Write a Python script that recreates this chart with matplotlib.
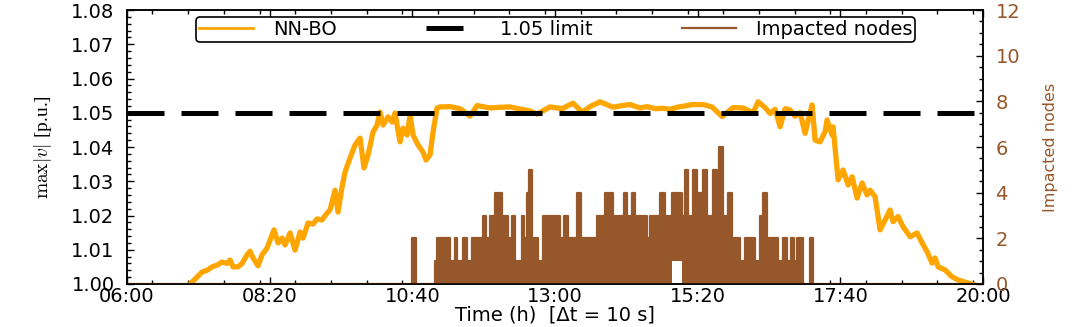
import matplotlib
matplotlib.use("Agg")
import matplotlib.pyplot as plt
from matplotlib.ticker import MultipleLocator, FixedLocator, FuncFormatter
from matplotlib.lines import Line2D

# --- DATA ---
# max |v| of NN-BO, time in hours of the day
volt_hours = [6.000, 6.376, 6.998, 7.030, 7.145, 7.227, 7.308, 7.390, 7.472, 7.554,
              7.636, 7.685, 7.734, 7.815, 7.881, 7.963, 8.012, 8.061, 8.143, 8.208,
              8.290, 8.339, 8.404, 8.470, 8.535, 8.584, 8.666, 8.748, 8.830, 8.879,
              8.960, 9.042, 9.108, 9.189, 9.271, 9.320, 9.402, 9.451, 9.516, 9.566,
              9.647, 9.729, 9.811, 9.876, 9.942, 10.024, 10.089, 10.138, 10.187, 10.269,
              10.334, 10.383, 10.465, 10.514, 10.580, 10.629, 10.678, 10.760, 10.841, 10.890,
              10.956, 11.005, 11.070, 11.119, 11.283, 11.447, 11.610, 11.725, 11.937, 12.101,
              12.264, 12.428, 12.591, 12.706, 12.918, 13.115, 13.295, 13.442, 13.573, 13.736,
              13.949, 14.096, 14.227, 14.391, 14.505, 14.636, 14.767, 14.881, 14.996, 15.127,
              15.257, 15.421, 15.568, 15.732, 15.912, 16.075, 16.239, 16.321, 16.435, 16.517,
              16.599, 16.681, 16.763, 16.844, 16.926, 17.008, 17.090, 17.171, 17.204, 17.253,
              17.335, 17.417, 17.449, 17.531, 17.547, 17.629, 17.711, 17.793, 17.858, 17.940,
              18.022, 18.103, 18.152, 18.234, 18.316, 18.398, 18.479, 18.528, 18.610, 18.692,
              18.807, 18.921, 19.003, 19.085, 19.166, 19.215, 19.265, 19.379, 19.493, 19.592,
              19.673, 19.788, 19.902, 20.000]
volt_max = [0.9950, 0.9960, 0.9995, 1.0000, 1.0020, 1.0035, 1.0040, 1.0050, 1.0055, 1.0064,
            1.0060, 1.0070, 1.0050, 1.0050, 1.0060, 1.0085, 1.0096, 1.0076, 1.0053, 1.0085,
            1.0105, 1.0128, 1.0158, 1.0120, 1.0134, 1.0114, 1.0149, 1.0099, 1.0152, 1.0134,
            1.0178, 1.0175, 1.0190, 1.0187, 1.0207, 1.0216, 1.0274, 1.0210, 1.0283, 1.0327,
            1.0368, 1.0406, 1.0426, 1.0339, 1.0377, 1.0444, 1.0464, 1.0502, 1.0464, 1.0488,
            1.0473, 1.0499, 1.0415, 1.0455, 1.0435, 1.0493, 1.0435, 1.0406, 1.0385, 1.0362,
            1.0377, 1.0444, 1.0514, 1.0517, 1.0518, 1.0512, 1.0490, 1.0521, 1.0514, 1.0516,
            1.0517, 1.0511, 1.0505, 1.0496, 1.0517, 1.0512, 1.0528, 1.0502, 1.0518, 1.0532,
            1.0516, 1.0521, 1.0524, 1.0514, 1.0518, 1.0512, 1.0513, 1.0510, 1.0516, 1.0520,
            1.0524, 1.0524, 1.0517, 1.0489, 1.0515, 1.0514, 1.0500, 1.0532, 1.0515, 1.0498,
            1.0510, 1.0459, 1.0512, 1.0508, 1.0490, 1.0500, 1.0440, 1.0500, 1.0523, 1.0420,
            1.0415, 1.0445, 1.0479, 1.0435, 1.0459, 1.0304, 1.0333, 1.0289, 1.0313, 1.0251,
            1.0295, 1.0260, 1.0274, 1.0255, 1.0158, 1.0187, 1.0216, 1.0182, 1.0197, 1.0167,
            1.0138, 1.0149, 1.0120, 1.0094, 1.0061, 1.0076, 1.0050, 1.0041, 1.0021, 1.0012,
            1.0007, 1.0001, 0.9995, 0.9990]

# impacted nodes: start hour of each run, highest and lowest count in that run
nodes_start = [6.000, 10.661, 10.727, 11.038, 11.070, 11.283, 11.365, 11.397, 11.496, 11.561,
               11.643, 11.823, 11.872, 11.937, 12.019, 12.133, 12.232, 12.297, 12.346, 12.461,
               12.493, 12.542, 12.575, 12.624, 12.722, 12.804, 12.951, 12.968, 13.082, 13.147,
               13.213, 13.360, 13.426, 13.687, 13.818, 13.949, 14.129, 14.178, 14.260, 14.309,
               14.505, 14.554, 14.718, 14.800, 14.914, 15.077, 15.126, 15.176, 15.257, 15.323,
               15.421, 15.486, 15.584, 15.650, 15.683, 15.748, 15.830, 15.895, 16.026, 16.108,
               16.271, 16.353, 16.402, 16.468, 16.648, 16.729, 16.795, 16.860, 16.909, 16.958,
               17.057, 17.171, 17.220, 20.000]
nodes_max = [0, 2, 0, 1, 2, 1, 2, 1, 2, 1,
             2, 3, 2, 3, 4, 3, 2, 3, 1, 3,
             2, 4, 5, 2, 1, 3, 2, 3, 2, 3,
             2, 4, 2, 3, 4, 3, 4, 3, 4, 3,
             2, 3, 4, 3, 4, 3, 5, 3, 5, 4,
             5, 3, 5, 4, 6, 3, 4, 2, 1, 2,
             1, 3, 4, 2, 1, 2, 1, 2, 1, 2,
             0, 2, 0, 0]
nodes_min = [0, 0, 0, 0, 0, 0, 0, 0, 0, 0,
             0, 0, 0, 0, 0, 0, 0, 0, 0, 0,
             0, 0, 0, 0, 0, 0, 0, 0, 0, 0,
             0, 0, 0, 0, 0, 0, 0, 0, 0, 0,
             0, 0, 0, 0, 1, 0, 0, 0, 0, 0,
             0, 0, 0, 0, 0, 0, 0, 0, 0, 0,
             0, 0, 0, 0, 0, 0, 0, 0, 0, 0,
             0, 0, 0, 0]

time_ticks = ['06:00', '08:20', '10:40', '13:00', '15:20', '17:40', '20:00']
v_limit = 1.05

orange = '#FFA500'
brown = '#96572B'

plt.rcParams['font.family'] = 'DejaVu Sans'
plt.rcParams['font.size'] = 14
plt.rcParams['mathtext.fontset'] = 'cm'

fig = plt.figure(figsize=(10.81, 3.27), dpi=100)
ax = fig.add_axes([0.1175, 0.1315, 0.7919, 0.8379])
ax2 = ax.twinx()

# --- PLOTTING ---
l1, = ax.plot(volt_hours, volt_max, color=orange, lw=3.8, solid_joinstyle='round', zorder=2)
l2, = ax.plot([6, 20], [v_limit, v_limit], color='black', lw=3.6, dashes=(7.4, 3.4), zorder=3)

ax2.fill_between(nodes_start, nodes_min, nodes_max, step='post', color=brown, lw=0)
l3, = ax2.plot(nodes_start, nodes_max, color=brown, lw=1.6, drawstyle='steps-post')

ax.set_xlim(6, 20)
ax.set_ylim(1.0, 1.08)
ax2.set_ylim(0, 12)

tick_pos = [int(t[:2]) + int(t[3:]) / 60 for t in time_ticks]
ax.xaxis.set_major_locator(FixedLocator(tick_pos))
ax.set_xticklabels(time_ticks)
ax.xaxis.set_minor_locator(MultipleLocator(35 / 60))
ax.yaxis.set_major_locator(MultipleLocator(0.01))
ax.yaxis.set_minor_locator(MultipleLocator(0.002))
ax.yaxis.set_major_formatter(FuncFormatter(lambda v, p: f'{v:.2f}'))
ax2.yaxis.set_major_locator(MultipleLocator(2))
ax2.yaxis.set_minor_locator(MultipleLocator(0.5))

ax.tick_params(axis='both', which='both', direction='in', top=True, right=False, width=1)
ax.tick_params(which='major', length=5)
ax.tick_params(which='minor', length=3)
ax.tick_params(axis='y', pad=9)
ax.tick_params(axis='x', pad=2)
ax2.tick_params(axis='y', which='both', direction='in', colors='black', labelcolor=brown, width=1, pad=9)
ax2.tick_params(which='major', length=5)
ax2.tick_params(which='minor', length=3)

for a in (ax, ax2):
    for s in a.spines.values():
        s.set_linewidth(1.1)

ax.set_xlabel('Time (h)  [Δt = 10 s]', labelpad=0)
ax.set_ylabel(r'$\max|v|$ [p.u.]', fontsize=14, family='Liberation Serif', labelpad=12)
ax2.set_ylabel('Impacted nodes', color=brown, fontsize=11.5, labelpad=16)

h1 = Line2D([], [], color=orange, lw=2)
h3 = Line2D([], [], color=brown, lw=1.6)
leg = ax2.legend([h1, l2, h3], ['NN-BO', '1.05 limit', 'Impacted nodes'],
                 loc='upper left', bbox_to_anchor=(0.0806, 0.0, 0.84, 0.975), mode='expand',
                 ncol=3, fancybox=True, framealpha=1, edgecolor='black',
                 handlelength=2.8, borderpad=0.15, handletextpad=1.0, borderaxespad=0)
leg.get_frame().set_linewidth(1.2)

fig.savefig('out.png', dpi=100)
